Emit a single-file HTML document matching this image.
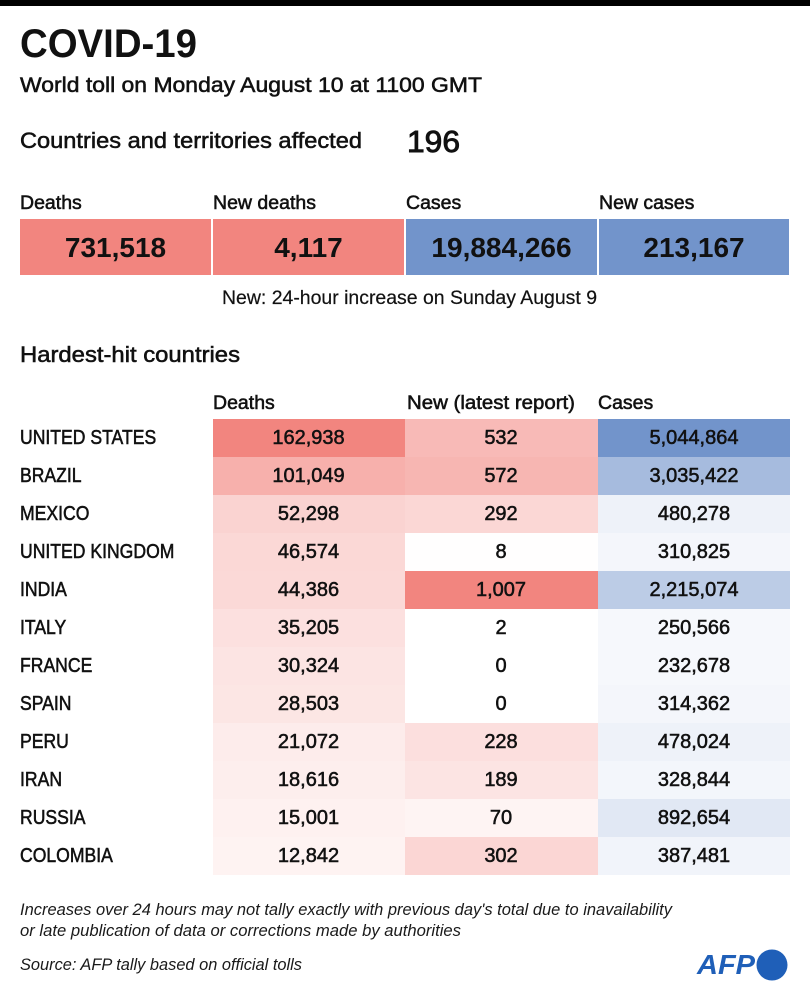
<!DOCTYPE html>
<html>
<head>
<meta charset="utf-8">
<style>
html,body{margin:0;padding:0;background:#fff;}
svg{display:block;}
text{font-family:"Liberation Sans",sans-serif;fill:#111;}
.sb{stroke:#111;stroke-width:0.55px;}
.num{font-size:20px;text-anchor:middle;}
.it{font-style:italic;font-size:17px;fill:#1a1a1a;}
</style>
</head>
<body>
<svg width="810" height="990" viewBox="0 0 810 990" xmlns="http://www.w3.org/2000/svg">
<rect x="0" y="0" width="810" height="990" fill="#ffffff"/>
<rect x="0" y="0" width="810" height="6" fill="#000"/>

<text x="20" y="57" font-size="40" font-weight="bold" textLength="177" lengthAdjust="spacingAndGlyphs">COVID-19</text>
<text class="sb" x="20" y="92" font-size="21.5" textLength="462" lengthAdjust="spacingAndGlyphs">World toll on Monday August 10 at 1100 GMT</text>

<text class="sb" x="20" y="148" font-size="22.5" textLength="342" lengthAdjust="spacingAndGlyphs">Countries and territories affected</text>
<text class="sb" x="407" y="152" font-size="31" textLength="53" lengthAdjust="spacingAndGlyphs" style="stroke-width:0.9px">196</text>

<text class="sb" x="20" y="209" font-size="19.5">Deaths</text>
<text class="sb" x="213" y="209" font-size="19.5">New deaths</text>
<text class="sb" x="406" y="209" font-size="19.5">Cases</text>
<text class="sb" x="599" y="209" font-size="19.5">New cases</text>

<rect x="20" y="219" width="191" height="56" fill="#F2857F"/>
<rect x="213" y="219" width="191" height="56" fill="#F2857F"/>
<rect x="406" y="219" width="191" height="56" fill="#7294CB"/>
<rect x="599" y="219" width="190" height="56" fill="#7294CB"/>
<text x="115.5" y="257" font-size="28" font-weight="bold" text-anchor="middle">731,518</text>
<text x="308.5" y="257" font-size="28" font-weight="bold" text-anchor="middle">4,117</text>
<text x="501.5" y="257" font-size="28" font-weight="bold" text-anchor="middle">19,884,266</text>
<text x="694" y="257" font-size="28" font-weight="bold" text-anchor="middle">213,167</text>

<text x="222" y="304" font-size="19.5" textLength="375" lengthAdjust="spacingAndGlyphs" style="stroke:#111;stroke-width:0.2px">New: 24-hour increase on Sunday August 9</text>

<text class="sb" x="20" y="362" font-size="22" textLength="220" lengthAdjust="spacingAndGlyphs">Hardest-hit countries</text>

<text class="sb" x="213" y="409" font-size="19.5">Deaths</text>
<text class="sb" x="407" y="409" font-size="19.5" textLength="168" lengthAdjust="spacingAndGlyphs">New (latest report)</text>
<text class="sb" x="598" y="409" font-size="19.5">Cases</text>

<g>
<rect x="213" y="419" width="192" height="38" fill="#F2857F"/>
<rect x="405" y="419" width="193" height="38" fill="#F8BAB7"/>
<rect x="598" y="419" width="192" height="38" fill="#7294CB"/>
<rect x="213" y="457" width="192" height="38" fill="#F7B0AC"/>
<rect x="405" y="457" width="193" height="38" fill="#F7B6B2"/>
<rect x="598" y="457" width="192" height="38" fill="#A6BBDE"/>
<rect x="213" y="495" width="192" height="38" fill="#FAD3D1"/>
<rect x="405" y="495" width="193" height="38" fill="#FBD7D5"/>
<rect x="598" y="495" width="192" height="38" fill="#EEF2F9"/>
<rect x="213" y="533" width="192" height="38" fill="#FBD8D6"/>
<rect x="405" y="533" width="193" height="38" fill="#FFFEFE"/>
<rect x="598" y="533" width="192" height="38" fill="#F4F6FB"/>
<rect x="213" y="571" width="192" height="38" fill="#FBD9D7"/>
<rect x="405" y="571" width="193" height="38" fill="#F2857F"/>
<rect x="598" y="571" width="192" height="38" fill="#BCCCE6"/>
<rect x="213" y="609" width="192" height="38" fill="#FCE0DF"/>
<rect x="405" y="609" width="193" height="38" fill="#FFFFFF"/>
<rect x="598" y="609" width="192" height="38" fill="#F6F8FC"/>
<rect x="213" y="647" width="192" height="38" fill="#FCE4E3"/>
<rect x="405" y="647" width="193" height="38" fill="#FFFFFF"/>
<rect x="598" y="647" width="192" height="38" fill="#F6F8FC"/>
<rect x="213" y="685" width="192" height="38" fill="#FCE6E4"/>
<rect x="405" y="685" width="193" height="38" fill="#FFFFFF"/>
<rect x="598" y="685" width="192" height="38" fill="#F4F6FB"/>
<rect x="213" y="723" width="192" height="38" fill="#FDECEB"/>
<rect x="405" y="723" width="193" height="38" fill="#FCDFDE"/>
<rect x="598" y="723" width="192" height="38" fill="#EEF2F9"/>
<rect x="213" y="761" width="192" height="38" fill="#FDEEED"/>
<rect x="405" y="761" width="193" height="38" fill="#FCE4E3"/>
<rect x="598" y="761" width="192" height="38" fill="#F3F6FB"/>
<rect x="213" y="799" width="192" height="38" fill="#FEF1F0"/>
<rect x="405" y="799" width="193" height="38" fill="#FEF4F3"/>
<rect x="598" y="799" width="192" height="38" fill="#E1E8F4"/>
<rect x="213" y="837" width="192" height="38" fill="#FEF3F2"/>
<rect x="405" y="837" width="193" height="38" fill="#FBD6D4"/>
<rect x="598" y="837" width="192" height="38" fill="#F1F4FA"/>
</g>

<g transform="translate(20,0) scale(0.88,1)" font-size="20">
<text class="sb" x="0" y="444">UNITED STATES</text>
<text class="sb" x="0" y="482">BRAZIL</text>
<text class="sb" x="0" y="520">MEXICO</text>
<text class="sb" x="0" y="558">UNITED KINGDOM</text>
<text class="sb" x="0" y="596">INDIA</text>
<text class="sb" x="0" y="634">ITALY</text>
<text class="sb" x="0" y="672">FRANCE</text>
<text class="sb" x="0" y="710">SPAIN</text>
<text class="sb" x="0" y="748">PERU</text>
<text class="sb" x="0" y="786">IRAN</text>
<text class="sb" x="0" y="824">RUSSIA</text>
<text class="sb" x="0" y="862">COLOMBIA</text>
</g>

<g>
<text class="sb num" x="308.5" y="444">162,938</text>
<text class="sb num" x="308.5" y="482">101,049</text>
<text class="sb num" x="308.5" y="520">52,298</text>
<text class="sb num" x="308.5" y="558">46,574</text>
<text class="sb num" x="308.5" y="596">44,386</text>
<text class="sb num" x="308.5" y="634">35,205</text>
<text class="sb num" x="308.5" y="672">30,324</text>
<text class="sb num" x="308.5" y="710">28,503</text>
<text class="sb num" x="308.5" y="748">21,072</text>
<text class="sb num" x="308.5" y="786">18,616</text>
<text class="sb num" x="308.5" y="824">15,001</text>
<text class="sb num" x="308.5" y="862">12,842</text>
</g>
<g>
<text class="sb num" x="501" y="444">532</text>
<text class="sb num" x="501" y="482">572</text>
<text class="sb num" x="501" y="520">292</text>
<text class="sb num" x="501" y="558">8</text>
<text class="sb num" x="501" y="596">1,007</text>
<text class="sb num" x="501" y="634">2</text>
<text class="sb num" x="501" y="672">0</text>
<text class="sb num" x="501" y="710">0</text>
<text class="sb num" x="501" y="748">228</text>
<text class="sb num" x="501" y="786">189</text>
<text class="sb num" x="501" y="824">70</text>
<text class="sb num" x="501" y="862">302</text>
</g>
<g>
<text class="sb num" x="694" y="444">5,044,864</text>
<text class="sb num" x="694" y="482">3,035,422</text>
<text class="sb num" x="694" y="520">480,278</text>
<text class="sb num" x="694" y="558">310,825</text>
<text class="sb num" x="694" y="596">2,215,074</text>
<text class="sb num" x="694" y="634">250,566</text>
<text class="sb num" x="694" y="672">232,678</text>
<text class="sb num" x="694" y="710">314,362</text>
<text class="sb num" x="694" y="748">478,024</text>
<text class="sb num" x="694" y="786">328,844</text>
<text class="sb num" x="694" y="824">892,654</text>
<text class="sb num" x="694" y="862">387,481</text>
</g>

<text class="it" x="20" y="915" textLength="652" lengthAdjust="spacingAndGlyphs">Increases over 24 hours may not tally exactly with previous day's total due to inavailability</text>
<text class="it" x="20" y="936" textLength="441" lengthAdjust="spacingAndGlyphs">or late publication of data or corrections made by authorities</text>
<text class="it" x="20" y="970" textLength="282" lengthAdjust="spacingAndGlyphs">Source: AFP tally based on official tolls</text>

<text x="697" y="974" font-size="28" font-weight="bold" font-style="italic" textLength="58" lengthAdjust="spacingAndGlyphs" style="fill:#1f5fb8">AFP</text>
<circle cx="772" cy="965" r="15.5" fill="#1f5fb8"/>
</svg>
</body>
</html>
